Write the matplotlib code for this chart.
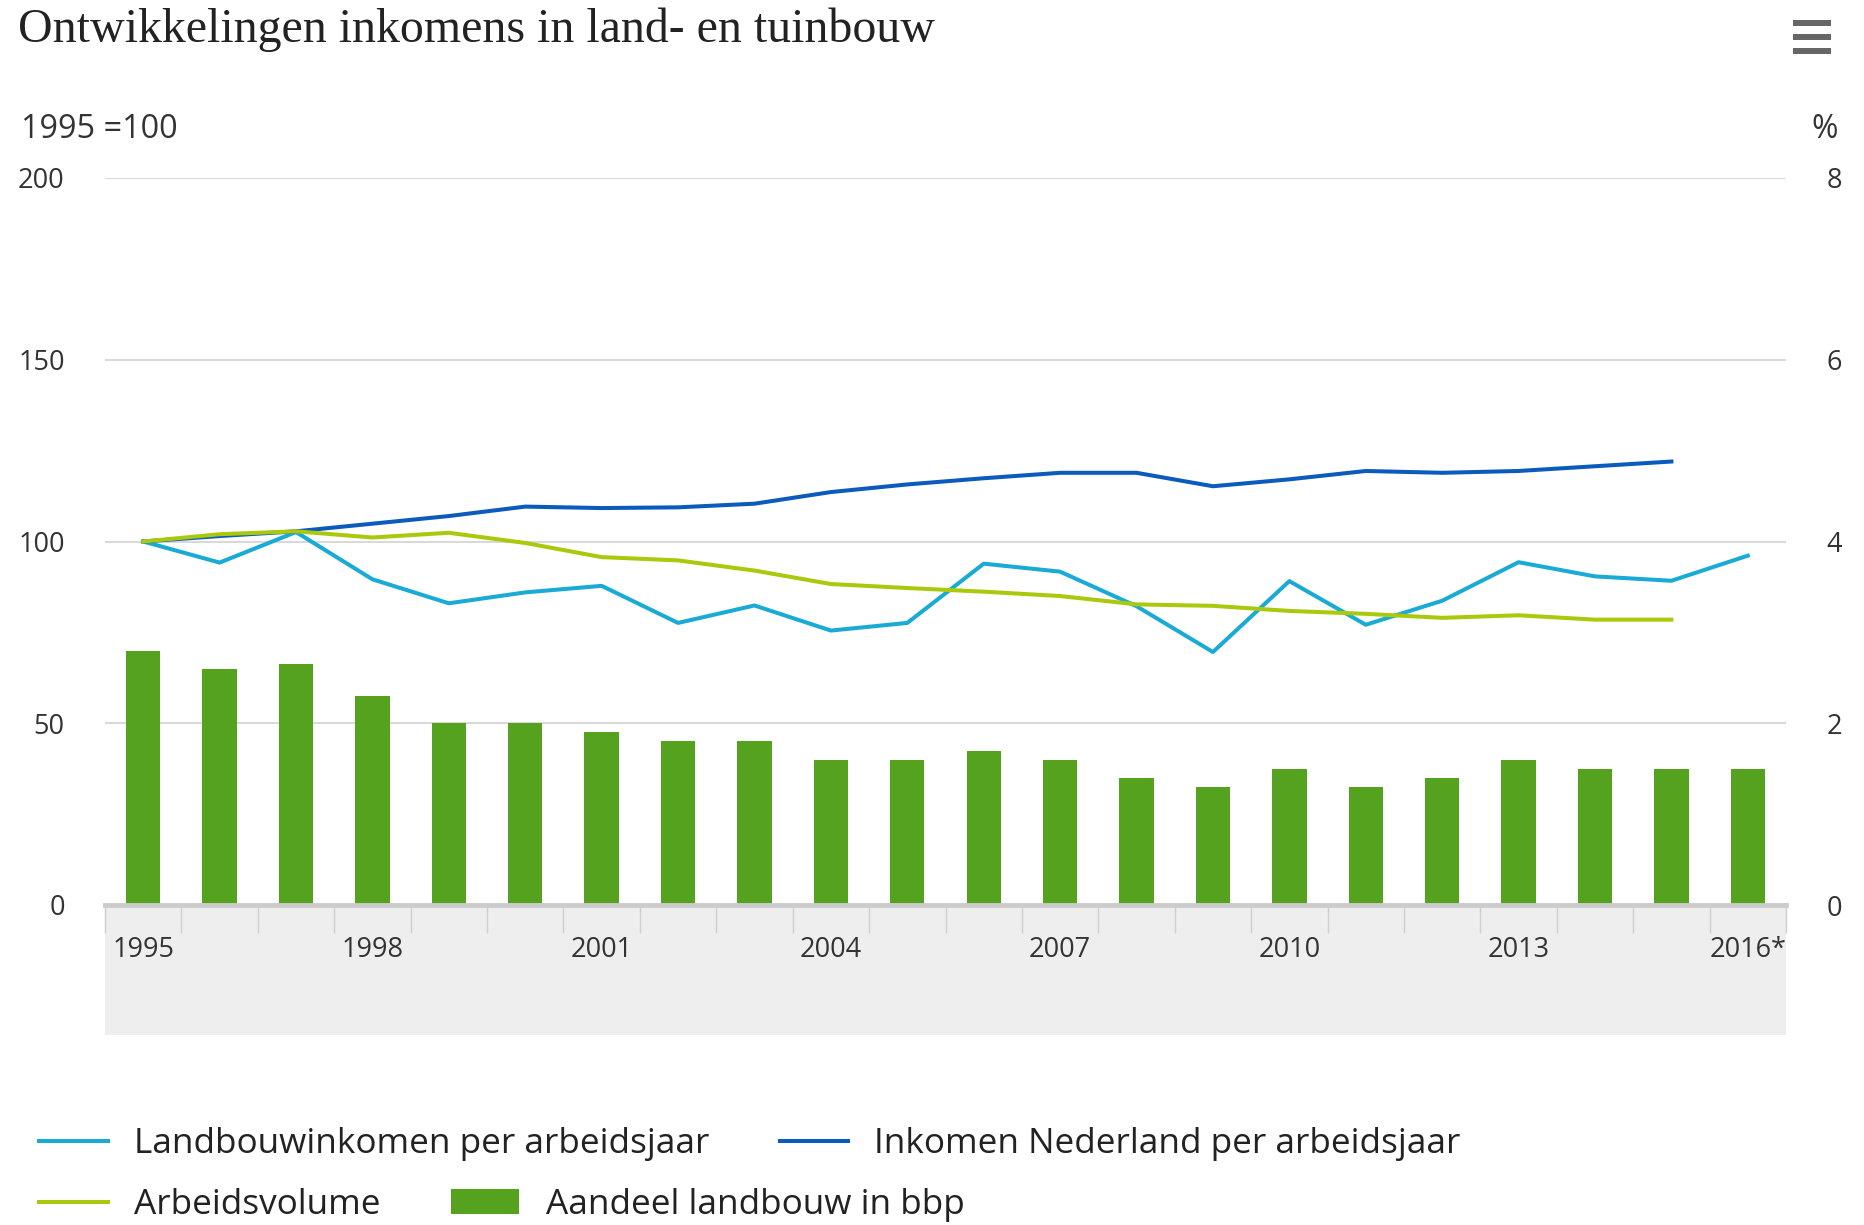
import numpy as np
import matplotlib.pyplot as plt
from matplotlib.patches import Rectangle

# ----------- Data -----------
years = [str(y) for y in range(1995, 2017)]
tick_years = ['1995', '1998', '2001', '2004', '2007', '2010', '2013', '2016']
tick_labels = ['1995', '1998', '2001', '2004', '2007', '2010', '2013', '2016*']

# index 1995 = 100
landbouw_inkomen = [100, 94.2, 102.6, 89.6, 83.0, 86.0, 87.8, 77.6, 82.4, 75.5, 77.6,
                    93.9, 91.7, 82.2, 69.6, 89.1, 77.1, 83.7, 94.3, 90.4, 89.2, 96.1]
inkomen_nl = [100, 101.5, 102.8, 104.9, 107.0, 109.6, 109.2, 109.4, 110.4, 113.6, 115.7,
              117.4, 118.9, 118.9, 115.2, 117.1, 119.4, 118.9, 119.4, 120.7, 122.0]
arbeidsvolume = [100, 102.0, 102.8, 101.1, 102.4, 99.6, 95.7, 94.8, 92.0, 88.3, 87.2,
                 86.2, 85.0, 82.7, 82.3, 80.9, 80.1, 79.0, 79.7, 78.5, 78.5]
# percentage of gdp
aandeel_bbp = [2.8, 2.6, 2.65, 2.3, 2.0, 2.0, 1.9, 1.8, 1.8, 1.6, 1.6,
               1.7, 1.6, 1.4, 1.3, 1.5, 1.3, 1.4, 1.6, 1.5, 1.5, 1.5]

series_names = ['Landbouwinkomen per arbeidsjaar', 'Inkomen Nederland per arbeidsjaar',
                'Arbeidsvolume', 'Aandeel landbouw in bbp']

# ----------- Style -----------
C_LIGHT = '#1aaad6'
C_DARK = '#0b5bbd'
C_LIME = '#abc90c'
C_BAR = '#55a21e'
C_GRID = '#d9d9d9'
C_TEXT = '#333333'

plt.rcParams['font.family'] = ['Open Sans', 'DejaVu Sans']

W, H = 1865, 1225
fig = plt.figure(figsize=(W / 100, H / 100), dpi=100)

left, right, top, bottom = 105, 1786, 178, 905
ax2 = fig.add_axes([left / W, 1 - bottom / H, (right - left) / W, (bottom - top) / H])
ax = ax2.twinx()
ax.yaxis.tick_left()

x = np.arange(len(years))

# bars on the right (percentage) axis, behind
bars = ax2.bar(x, aandeel_bbp, width=0.45, color=C_BAR, zorder=2)
ax2.set_ylim(0, 8)
ax2.set_yticks([0, 2, 4, 6, 8])
ax2.yaxis.tick_right()
ax2.grid(axis='y', color=C_GRID, linewidth=1.5, zorder=0)
ax2.set_axisbelow(True)

# lines on the left (index) axis, in front
idx = {y: i for i, y in enumerate(years)}
l1, = ax.plot(x, landbouw_inkomen, color=C_LIGHT, lw=2.9)
l2, = ax.plot(x[:len(inkomen_nl)], inkomen_nl, color=C_DARK, lw=2.9)
l3, = ax.plot(x[:len(arbeidsvolume)], arbeidsvolume, color=C_LIME, lw=2.9)
ax.set_ylim(0, 200)
ax.set_yticks([0, 50, 100, 150, 200])

for a in (ax, ax2):
    a.set_xlim(-0.5, len(years) - 0.5)
    for s in ('top', 'left', 'right', 'bottom'):
        a.spines[s].set_visible(False)
    a.tick_params(axis='y', length=0, labelsize=19.5, labelcolor=C_TEXT)

ax.tick_params(axis='y', pad=29)
ax2.tick_params(axis='y', pad=29)
for lab in ax2.get_yticklabels():
    lab.set_horizontalalignment('left')

# category axis
ax2.set_xticks([idx[y] for y in tick_years])
ax2.set_xticklabels(tick_labels)
ax2.set_xticks(np.arange(-0.5, len(years)), minor=True)
ax2.tick_params(axis='x', which='major', length=0, pad=22, labelsize=19.5, labelcolor=C_TEXT)
ax2.tick_params(axis='x', which='minor', length=20, width=1, color='#cfcfcf', direction='out')
ax.tick_params(axis='x', length=0, labelbottom=False)

# grey band under the axis and the baseline
band = Rectangle((0, -0.179), 1, 0.179, transform=ax2.transAxes, facecolor='#eeeeee',
                 edgecolor='none', clip_on=False, zorder=-1)
ax2.add_patch(band)
ax2.axhline(0, color='#cccccc', lw=3.5, zorder=3, clip_on=False)

# titles
fig.text(18 / W, 1 - 42 / H, 'Ontwikkelingen inkomens in land- en tuinbouw',
         family='Liberation Serif', fontsize=34.5, color='#222222', va='baseline')
fig.text(21 / W, 1 - 138 / H, '1995 =100', fontsize=23.3, color=C_TEXT, va='baseline')
fig.text(1838 / W, 1 - 138 / H, '%', fontsize=23, color=C_TEXT, va='baseline', ha='right')

# menu icon
for yy in (20, 34, 48):
    fig.add_artist(Rectangle((1793 / W, 1 - (yy + 6) / H), 38 / W, 6 / H,
                             transform=fig.transFigure, facecolor='#666666', edgecolor='none'))

# legend, two rows of flowing items
kw = dict(frameon=False, fontsize=25.3, handlelength=1.95, handletextpad=0.75,
          columnspacing=2.0, borderpad=0, borderaxespad=0, labelcolor='#222222',
          loc='center left')
fig.legend([l1, l2], series_names[:2], ncol=2, bbox_to_anchor=(39 / W, 1 - 1144 / H), **kw)
fig.legend([l3, bars], series_names[2:], ncol=2, bbox_to_anchor=(39 / W, 1 - 1205 / H), **kw)

fig.savefig('out.png', dpi=100)
